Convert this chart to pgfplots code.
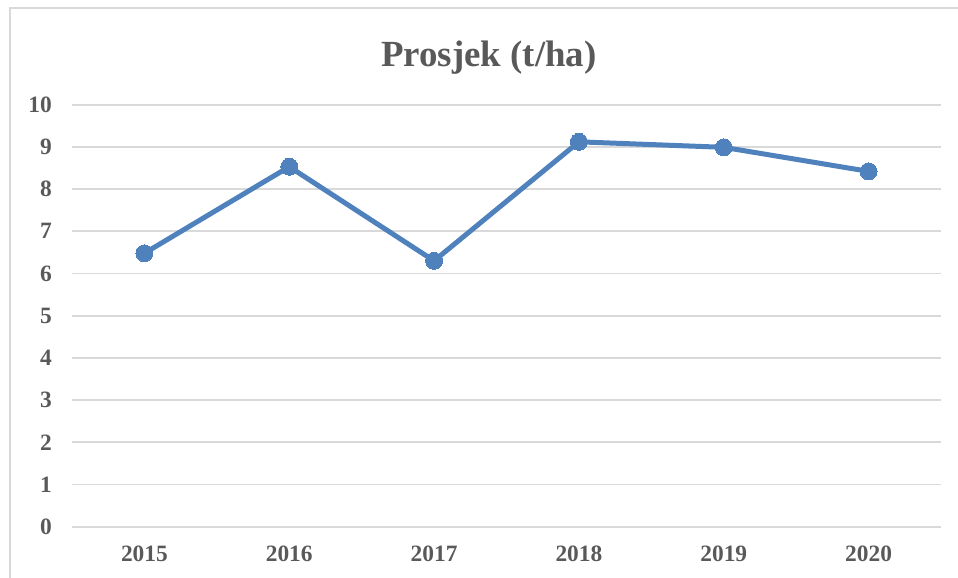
\documentclass[border=0pt]{standalone}
\usepackage{pgfplots}
\pgfplotsset{compat=1.18}
\usepackage{fontspec}
\setmainfont{Liberation Serif}
\definecolor{txtgray}{HTML}{595959}
\definecolor{gridgray}{HTML}{D9D9D9}
\definecolor{lineblue}{HTML}{4F81BD}
\begin{document}
\begin{tikzpicture}
\begin{axis}[
  scale only axis,
  at={(0bp,0bp)}, anchor=south west,
  width=869bp, height=422bp,
  xmin=-0.5, xmax=5.5, ymin=0, ymax=10,
  xtick={0,1,2,3,4,5},
  xticklabels={2015,2016,2017,2018,2019,2020},
  ytick={0,1,2,3,4,5,6,7,8,9,10},
  axis line style={draw=none},
  major tick length=0pt,
  ymajorgrids,
  grid style={draw=gridgray, line width=1.8bp},
  /pgf/number format/assume math mode=true,
  ticklabel style={font=\fontsize{23.5}{26}\selectfont\bfseries, text=txtgray, inner sep=0pt},
  yticklabel style={anchor=east, xshift=-20bp},
  xticklabel style={anchor=north, yshift=-19bp},
  clip=false,
]
\addplot[color=lineblue, line width=5bp, mark=*, mark size=8.5bp, mark options={fill=lineblue, draw=lineblue, line width=0pt}]
  coordinates {(0,6.48) (1,8.53) (2,6.30) (3,9.12) (4,8.99) (5,8.42)};
\end{axis}
\node[anchor=base, font=\fontsize{37}{40}\selectfont\bfseries, text=txtgray, inner sep=0pt] at (417bp,460bp) {Prosjek (t/ha)};
\draw[gridgray, line width=1.2bp] (-62bp,-60bp) -- (-62bp,518.7bp) -- (900bp,518.7bp);
\pgfresetboundingbox
\useasboundingbox (-72bp,-51.3bp) rectangle (886bp,526.7bp);
\end{tikzpicture}
\end{document}
